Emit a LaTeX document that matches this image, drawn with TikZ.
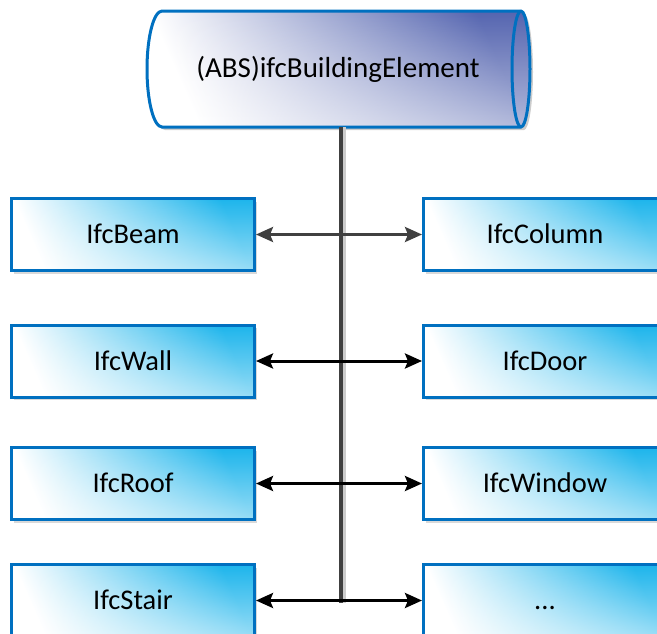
\documentclass[tikz,border=0pt]{standalone}
\usepackage{fontspec}
\setmainfont{Carlito}
\usetikzlibrary{arrows.meta,shadows,fadings}
\definecolor{bordblue}{HTML}{0070C0}
\definecolor{boxcyan}{HTML}{1DB5EC}
\definecolor{cylblue}{HTML}{5565B0}
\definecolor{linegray}{HTML}{404040}
\tikzfading[name=fadebot, top color=transparent!100, middle color=transparent!100, bottom color=transparent!45]
\tikzset{
  ibox/.style={draw=bordblue, line width=3pt, minimum width=243pt, minimum height=72pt,
    bottom color=white, top color=boxcyan, shading angle=-66, inner sep=0pt,
    font=\fontsize{28.5}{32}\selectfont, text height=18pt, text depth=0pt,
    path picture={\fill[white, path fading=fadebot] (path picture bounding box.south west) rectangle (path picture bounding box.north east);},
    drop shadow={shadow xshift=2pt, shadow yshift=-3pt, fill=black!25, opacity=0.6}},
  link/.style={line width=3pt, {Stealth[length=17pt,width=15pt,inset=3pt]}-{Stealth[length=17pt,width=15pt,inset=3pt]}},
}
\begin{document}
\begin{tikzpicture}[x=1pt,y=1pt]
\useasboundingbox (0,0) rectangle (657,-633);
% cylinder
\fill[black!20] (165,-14) -- (524,-14) arc[start angle=90, end angle=-90, x radius=9, y radius=58] -- (165,-130) arc[start angle=270, end angle=90, x radius=15, y radius=58] -- cycle;
\shade[bottom color=white, top color=cylblue, shading angle=-66]
  (162,-11) -- (521,-11) arc[start angle=90, end angle=-90, x radius=9, y radius=58] -- (162,-127) arc[start angle=270, end angle=90, x radius=15, y radius=58] -- cycle;
\fill[white, path fading=fadebot]
  (162,-11) -- (521,-11) arc[start angle=90, end angle=-90, x radius=9, y radius=58] -- (162,-127) arc[start angle=270, end angle=90, x radius=15, y radius=58] -- cycle;
\draw[bordblue, line width=3pt]
  (162,-11) -- (521,-11) arc[start angle=90, end angle=-90, x radius=9, y radius=58] -- (162,-127) arc[start angle=270, end angle=90, x radius=15, y radius=58] -- cycle;
\draw[bordblue, line width=3pt] (521,-11) arc[start angle=90, end angle=270, x radius=9, y radius=58];
\node[font=\fontsize{29}{32}\selectfont] (abs) at (338,-69) {(ABS)ifcBuildingElement};
\coordinate (top) at (341,-127);
\coordinate (bot) at (341,-603);
\coordinate (topsh) at (344,-127);
\coordinate (botsh) at (344,-603);
\draw[black!20, line width=3pt] (topsh) -- (botsh);
\draw[linegray, line width=4pt] (top) -- (bot);
% boxes
\node[ibox] (beam) at (133,-234.5) {IfcBeam};
\node[ibox] (column) at (545,-234.5) {IfcColumn};
\node[ibox] (wall) at (133,-361) {IfcWall};
\node[ibox] (door) at (545,-361) {IfcDoor};
\node[ibox] (roof) at (133,-483.5) {IfcRoof};
\node[ibox] (window) at (545,-483.5) {IfcWindow};
\node[ibox] (stair) at (133,-600.5) {IfcStair};
\node[ibox] (more) at (545,-600.5) {...};
% connectors
\draw[link, linegray] (beam.east) -- (column.west);
\draw[link, black] (wall.east) -- (door.west);
\draw[link, black] (roof.east) -- (window.west);
\draw[link, black] (stair.east) -- (more.west);
\end{tikzpicture}
\end{document}
